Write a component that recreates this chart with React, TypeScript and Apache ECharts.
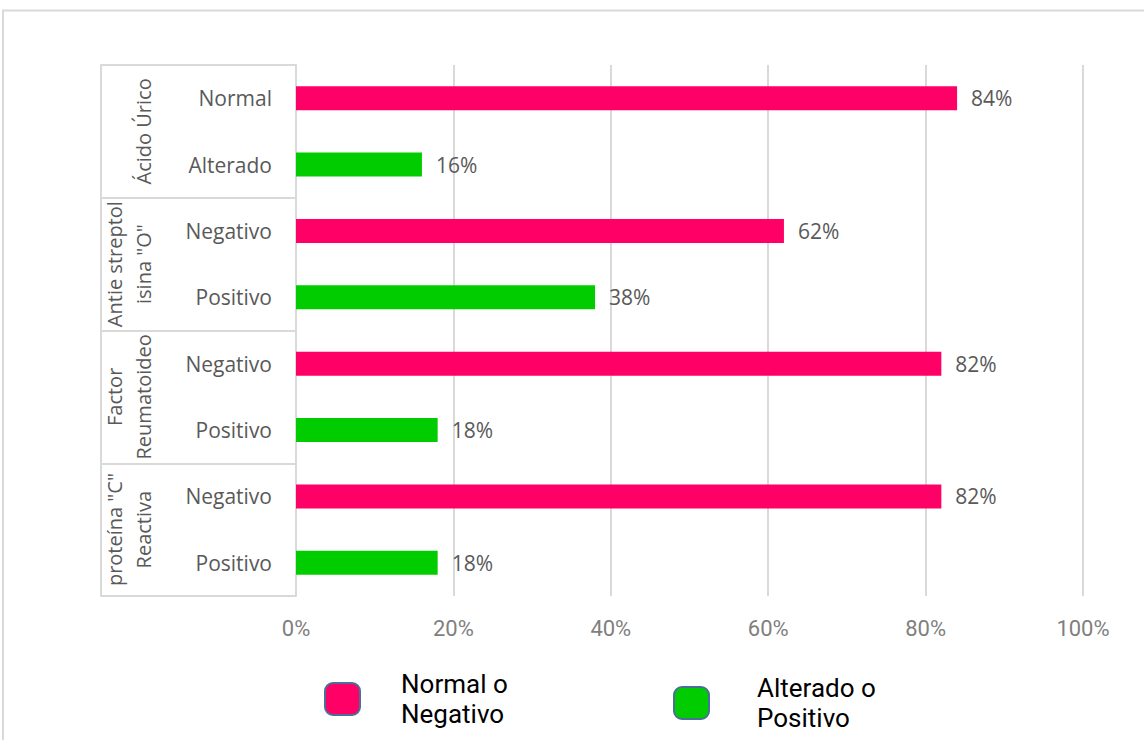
import React, { useEffect, useRef } from "react";
import * as echarts from "echarts";

// Inner categories (one per bar), top to bottom
const categories = [
  "Normal",
  "Alterado",
  "Negativo",
  "Positivo",
  "Negativo",
  "Positivo",
  "Negativo",
  "Positivo",
];

// Outer groups, each spanning two inner categories
const groups = [
  "Ácido Úrico",
  "Antie streptol\nisina \"O\"",
  "Factor\nReumatoideo",
  "proteína \"C\"\nReactiva",
];

const seriesNames = ["Normal o\nNegativo", "Alterado o\nPositivo"];

// Percent values per category; null where the other series holds the row
const normalValues = [84, null, 62, null, 82, null, 82, null];
const alteredValues = [null, 16, null, 38, null, 18, null, 18];

const xTicks = [0, 20, 40, 60, 80, 100];

const PINK = "#FF0066";
const GREEN = "#00CC00";
const GRID_GREY = "#D9D9D9";
const NARROW = "'Roboto', 'Noto Sans', sans-serif";
const SANS = "'Open Sans', 'Noto Sans', sans-serif";

export default function App() {
  const ref = useRef<HTMLDivElement>(null);

  useEffect(() => {
    if (!ref.current) return;
    const chart = echarts.init(ref.current, null, { renderer: "svg" });

    const legendBase = {
      orient: "horizontal",
      icon: "roundRect",
      itemWidth: 35,
      itemHeight: 32,
      padding: 0,
      selectedMode: false,
      itemStyle: { borderColor: "#4A7098", borderWidth: 2 },
    };

    const legendText = {
      fontFamily: NARROW,
      fontSize: 26,
      lineHeight: 30,
      color: "#000000",
    };

    chart.setOption({
      animation: false,
      backgroundColor: "#FFFFFF",
      graphic: [
        {
          type: "rect",
          shape: { x: 3, y: 10.5, width: 1300, height: 900 },
          style: { fill: "none", stroke: GRID_GREY, lineWidth: 2 },
          silent: true,
        },
      ],
      grid: { left: 296, right: 61, top: 65, bottom: 144, containLabel: false },
      legend: [
        {
          ...legendBase,
          data: [seriesNames[0]],
          left: 324,
          top: 669,
          textStyle: { ...legendText, padding: [0, 0, 0, 36] },
        },
        {
          ...legendBase,
          data: [seriesNames[1]],
          left: 673,
          top: 663,
          textStyle: { ...legendText, padding: [0, 0, 20, 43] },
        },
      ],
      xAxis: {
        type: "value",
        min: xTicks[0],
        max: xTicks[xTicks.length - 1],
        interval: xTicks[1] - xTicks[0],
        axisLine: { show: false },
        axisTick: { show: false },
        splitLine: { lineStyle: { color: GRID_GREY, width: 2 } },
        axisLabel: {
          formatter: "{value}%",
          color: "#7F7F7F",
          fontFamily: NARROW,
          fontSize: 22,
          margin: 21,
        },
      },
      yAxis: [
        {
          type: "category",
          data: categories,
          inverse: true,
          axisLine: { show: false },
          axisTick: { show: false },
          axisLabel: {
            color: "#595959",
            fontFamily: SANS,
            fontSize: 21,
            margin: 24,
            interval: 0,
          },
        },
        {
          type: "category",
          data: groups,
          inverse: true,
          position: "left",
          axisLine: { show: true, lineStyle: { color: GRID_GREY, width: 2 } },
          axisTick: {
            show: true,
            length: 195,
            lineStyle: { color: GRID_GREY, width: 2 },
          },
          axisLabel: {
            rotate: 90,
            color: "#595959",
            fontFamily: SANS,
            fontSize: 20,
            lineHeight: 29,
            margin: 138,
            interval: 0,
          },
        },
        {
          type: "category",
          data: groups,
          inverse: true,
          position: "left",
          offset: 195,
          axisLine: { show: true, lineStyle: { color: GRID_GREY, width: 2 } },
          axisTick: { show: false },
          axisLabel: { show: false },
        },
      ],
      series: [
        {
          name: seriesNames[0],
          type: "bar",
          yAxisIndex: 0,
          data: normalValues,
          barWidth: 24,
          barGap: "-100%",
          itemStyle: { color: PINK },
          label: {
            show: true,
            position: "right",
            distance: 14,
            formatter: "{c}%",
            color: "#595959",
            fontFamily: SANS,
            fontSize: 21,
          },
        },
        {
          name: seriesNames[1],
          type: "bar",
          yAxisIndex: 0,
          data: alteredValues,
          barWidth: 24,
          barGap: "-100%",
          itemStyle: { color: GREEN },
          label: {
            show: true,
            position: "right",
            distance: 14,
            formatter: "{c}%",
            color: "#595959",
            fontFamily: SANS,
            fontSize: 21,
          },
        },
      ],
    });

    return () => chart.dispose();
  }, []);

  return (
    <div
      ref={ref}
      style={{ position: "fixed", left: 0, top: 0, width: 1144, height: 740 }}
    />
  );
}
